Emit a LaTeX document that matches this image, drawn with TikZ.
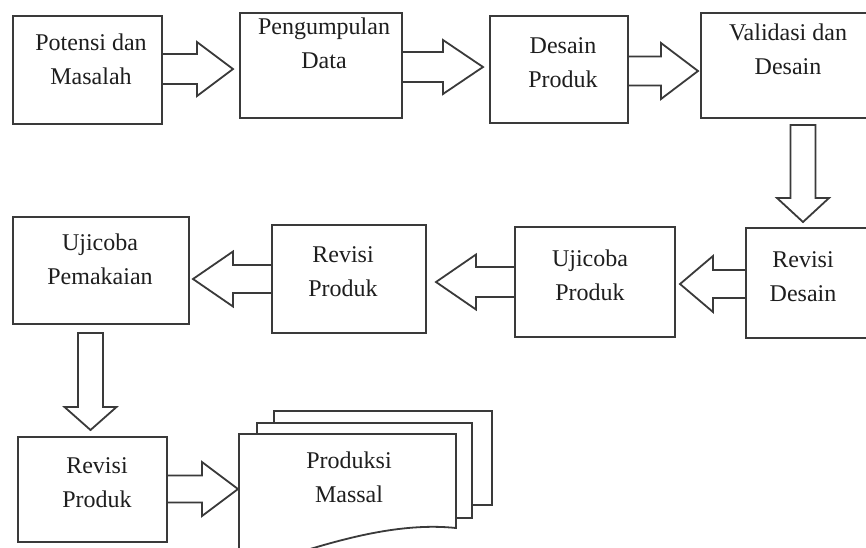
\documentclass[tikz,border=0pt]{standalone}
\usepackage{fontspec}
\setmainfont{Liberation Serif}
\definecolor{linec}{HTML}{3A3A3A}
\definecolor{txtc}{HTML}{1E1E1E}
\begin{document}
\begin{tikzpicture}[x=1pt,y=-1pt,
  box/.style={draw=linec, line width=1.8pt, rectangle, inner sep=0pt},
  lbl/.style={font=\fontsize{24}{34}\selectfont, text=txtc, align=center, inner sep=0pt, anchor=north},
  blk/.style={draw=linec, line width=1.8pt, line join=miter},
  doc/.style={draw=linec, line width=1.8pt, fill=white, line join=miter}]
\fill[white] (0,0) rectangle (866,547);
\useasboundingbox (0,0) rectangle (866,547);
% boxes
\node[box, minimum width=149, minimum height=108] (b1) at (87.5,70) {};
\node[box, minimum width=162, minimum height=105] (b2) at (321,65.5) {};
\node[box, minimum width=138, minimum height=107] (b3) at (559,69.5) {};
\node[box, minimum width=179, minimum height=105] (b4) at (790.5,65.5) {};
\node[box, minimum width=134, minimum height=110] (b5) at (813,283) {};
\node[box, minimum width=160, minimum height=110] (b6) at (595,282) {};
\node[box, minimum width=154, minimum height=108] (b7) at (349,279) {};
\node[box, minimum width=176, minimum height=107] (b8) at (101,270.5) {};
\node[box, minimum width=149, minimum height=105] (b9) at (92.5,489.5) {};
% labels
\node[lbl] (t1) at (91,34) {Potensi dan\\Masalah};
\node[lbl] (t2) at (324,18) {Pengumpulan\\Data};
\node[lbl] (t3) at (563,37) {Desain\\Produk};
\node[lbl] (t4) at (788,24) {Validasi dan\\Desain};
\node[lbl] (t5) at (803,251) {Revisi\\Desain};
\node[lbl] (t6) at (590,250) {Ujicoba\\Produk};
\node[lbl] (t7) at (343,246) {Revisi\\Produk};
\node[lbl] (t8) at (100,234) {Ujicoba\\Pemakaian};
\node[lbl] (t9) at (97,457) {Revisi\\Produk};
% block arrows (right)
\draw[blk] (b1.east |- 0,54) -- (197,54) -- (197,42) -- (233,69) -- (197,96) -- (197,84) -- (b1.east |- 0,84);
\draw[blk] (b2.east |- 0,52) -- (443,52) -- (443,40) -- (483,67) -- (443,94) -- (443,82) -- (b2.east |- 0,82);
\draw[blk] (b3.east |- 0,56.5) -- (661,56.5) -- (661,43) -- (698,71) -- (661,99) -- (661,85.5) -- (b3.east |- 0,85.5);
\draw[blk] (b9.east |- 0,475.5) -- (202,475.5) -- (202,462) -- (238,489) -- (202,516) -- (202,502.5) -- (b9.east |- 0,502.5);
% block arrows (left)
\draw[blk] (b5.west |- 0,270) -- (713,270) -- (713,256) -- (680,284) -- (713,312) -- (713,298) -- (b5.west |- 0,298);
\draw[blk] (b6.west |- 0,267) -- (476,267) -- (476,254.5) -- (436,282) -- (476,309.5) -- (476,297) -- (b6.west |- 0,297);
\draw[blk] (b7.west |- 0,265) -- (233,265) -- (233,251.5) -- (193,279) -- (233,306.5) -- (233,293) -- (b7.west |- 0,293);
% block arrows (down)
\draw[blk] (790.5,125) -- (815.5,125) -- (815.5,198) -- (829,198) -- (803,222) -- (777,198) -- (790.5,198) -- cycle;
\draw[blk] (78,333) -- (103,333) -- (103,407) -- (116.5,407) -- (90.5,430) -- (64.5,407) -- (78,407) -- cycle;
% multi-document
\draw[doc] (274,411) -- (492,411) -- (492,505) -- (274,505) -- cycle;
\draw[doc] (257,423) -- (472,423) -- (472,518) -- (257,518) -- cycle;
\draw[doc] (239,434) -- (456,434) -- (456,528) .. controls (400,522) and (340,540) .. (300,552) .. controls (270,560) and (250,556) .. (239,550) -- cycle;
\node[lbl] (pm) at (349,452) {Produksi\\Massal};
\end{tikzpicture}
\end{document}
